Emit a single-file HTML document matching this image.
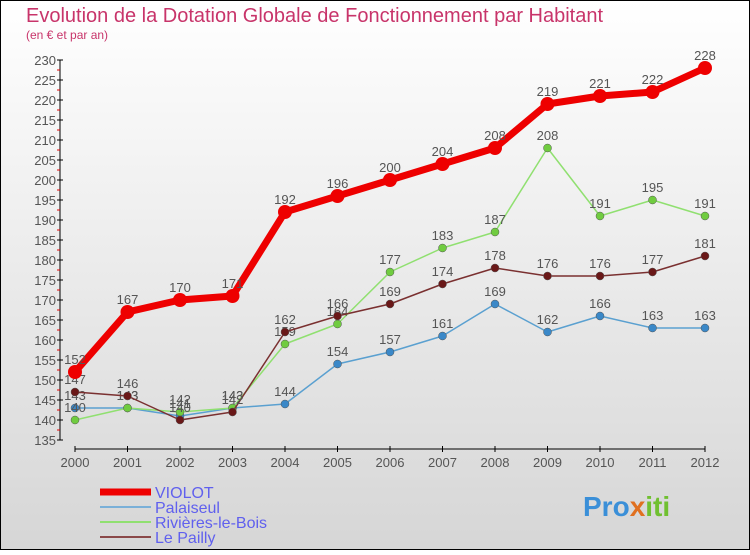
<!DOCTYPE html>
<html><head><meta charset="utf-8"><style>
body{margin:0}
svg text{font-family:"Liberation Sans",sans-serif}
</style></head><body>
<svg id="c" width="750" height="550" xmlns="http://www.w3.org/2000/svg">
<defs><linearGradient id="bg" x1="0" y1="0" x2="0" y2="1"><stop offset="0" stop-color="#ffffff"/><stop offset="1" stop-color="#d6d6d6"/></linearGradient></defs>
<rect x="0.5" y="0.5" width="749" height="549" fill="url(#bg)" stroke="#000"/>
<text x="26" y="22" font-size="20" fill="#c8346a">Evolution de la Dotation Globale de Fonctionnement par Habitant</text>
<text x="26" y="39" font-size="12" fill="#c8346a">(en € et par an)</text>
<g id="axes"></g><g id="series"></g><g id="legend"></g>
<text x="583" y="516" font-size="28" font-weight="bold" fill="#3a8fd8">Pro<tspan fill="#e07020">x</tspan><tspan fill="#70c030">iti</tspan></text>
</svg>
<script>
const years=["2000","2001","2002","2003","2004","2005","2006","2007","2008","2009","2010","2011","2012"];
const violot=[152,167,170,171,192,196,200,204,208,219,221,222,228];
const palaiseul=[143,143,141,143,144,154,157,161,169,162,166,163,163];
const rivieres=[140,143,142,143,159,164,177,183,187,208,191,195,191];
const pailly=[147,146,140,142,162,166,169,174,178,176,176,177,181];
const yTicks=[135,140,145,150,155,160,165,170,175,180,185,190,195,200,205,210,215,220,225,230];
const NS="http://www.w3.org/2000/svg";
const X=i=>75+i*52.5;
const Y=v=>60+(230-v)*4;
function mk(t,a,p){const e=document.createElementNS(NS,t);for(const k in a)e.setAttribute(k,a[k]);p.appendChild(e);return e;}
const ax=document.getElementById('axes');
let yl=mk('line',{x1:60,y1:Y(230),x2:60,y2:Y(135),stroke:'#000'},ax);


yTicks.forEach(v=>{
 mk('line',{x1:57,y1:Y(v),x2:63,y2:Y(v),stroke:'#000'},ax);
 if(v<230)mk('line',{x1:57,y1:Y(v+2.5),x2:60,y2:Y(v+2.5),stroke:'#e00000'},ax);
 const t=mk('text',{x:56,y:Y(v)+5,'font-size':13,fill:'#555','text-anchor':'end'},ax);t.textContent=v;
 
 
});
let xl=mk('line',{x1:X(0),y1:449,x2:X(12),y2:449,stroke:'#000'},ax);


years.forEach((y,i)=>{
 mk('line',{x1:X(i),y1:446,x2:X(i),y2:452,stroke:'#000'},ax);
 const t=mk('text',{x:X(i),y:467,'font-size':13,fill:'#555','text-anchor':'middle'},ax);t.textContent=y;
 
 
});
const sg=document.getElementById('series');
function series(d,col,dot,w,r,name){
 const g=mk('g',{},sg);
 
 
 mk('polyline',{points:d.map((v,i)=>X(i)+','+Y(v)).join(' '),fill:'none',stroke:col,'stroke-width':w,'stroke-linejoin':'round'},g);
 d.forEach((v,i)=>{
  const c=mk('circle',{cx:X(i),cy:Y(v),r:r,fill:dot,stroke:'#555','stroke-width':w>3?0:0.5},g);
  
  
  const t=mk('text',{x:X(i),y:Y(v)-8,'font-size':13,fill:'#555','text-anchor':'middle'},g);t.textContent=v;
  
  
 });
}
series(palaiseul,'#5aa0d0','#3a88c8',1.5,4,'palaiseul');
series(rivieres,'#90e070','#70cc40',1.5,4,'rivieres-le-bois');
series(pailly,'#7a3030','#6a1818',1.5,4,'le-pailly');
series(violot,'#ee0000','#ee0000',7,7,'violot');
const lg=document.getElementById('legend');
[['VIOLOT','#ee0000',7],['Palaiseul','#7ab0d8',2],['Rivières-le-Bois','#90e070',2],['Le Pailly','#8a4848',2]].forEach((e,i)=>{
 const y=492+i*15;
 const l=mk('line',{x1:100,y1:y,x2:151,y2:y,stroke:e[1],'stroke-width':e[2]},lg);
 
 
 const t=mk('text',{x:155,y:y+6,'font-size':16,fill:'#6060ee'},lg);t.textContent=e[0];
 
 
});
</script>
</body></html>
